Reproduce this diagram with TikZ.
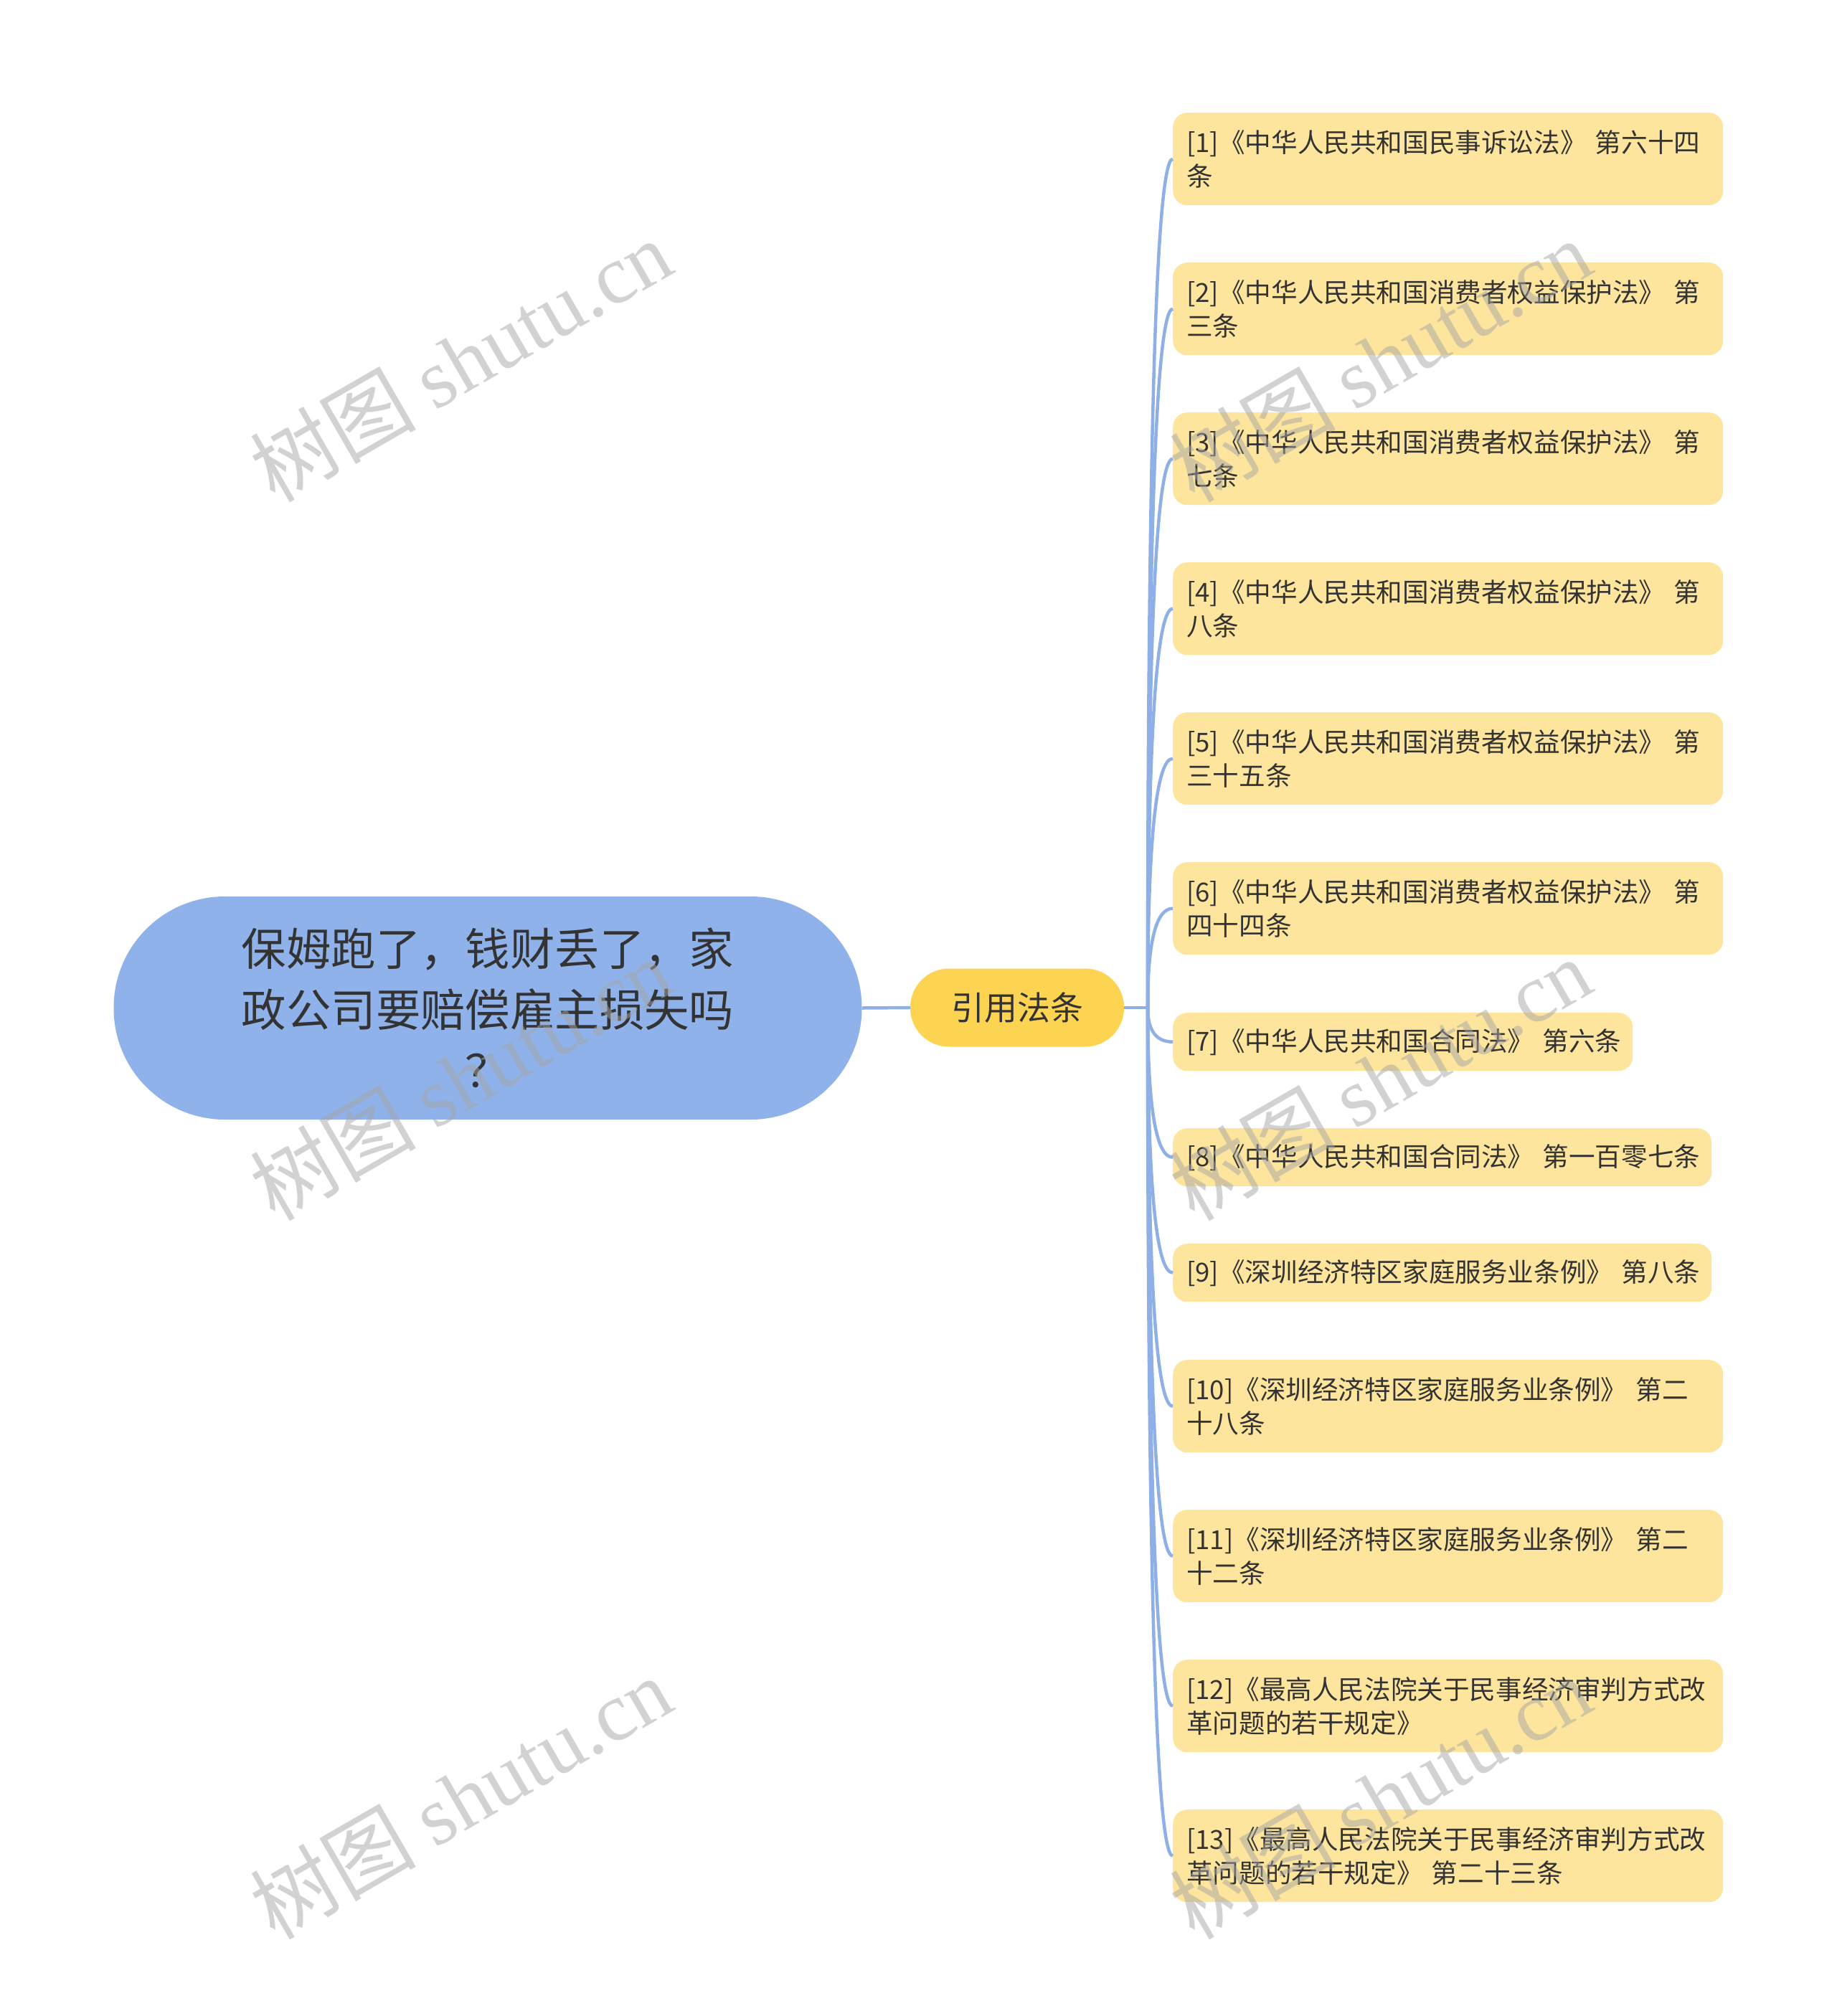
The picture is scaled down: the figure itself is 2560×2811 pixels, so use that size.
\documentclass[tikz,border=0pt]{standalone}
\usepackage{fontspec}
\setmainfont{Noto Sans CJK SC}
\newfontfamily\wmcjk{Noto Sans CJK SC}
\newfontfamily\wmlat{Liberation Serif}
\usetikzlibrary{calc}
\definecolor{rootblue}{HTML}{8FB2EA}
\definecolor{linkblue}{HTML}{8EB0E7}
\definecolor{midyellow}{HTML}{FDD352}
\definecolor{leafyellow}{HTML}{FDE59D}
\definecolor{txt}{HTML}{333333}
\definecolor{wm}{HTML}{A6A6A6}
\begin{document}
\begin{tikzpicture}[x=1pt,y=-1pt,
  rootbox/.style={fill=rootblue, rounded corners=155pt, minimum width=1043pt, minimum height=311pt, align=center, text=txt, font=\fontsize{62.4}{85}\selectfont, inner sep=0pt},
  midbox/.style={fill=midyellow, rounded corners=54pt, minimum width=298pt, minimum height=109pt, text=txt, font=\fontsize{46}{56}\selectfont, inner sep=0pt},
  leafbox/.style={fill=leafyellow, rounded corners=20pt, anchor=north west, align=left, text=txt, font=\fontsize{36.6}{47}\selectfont, inner xsep=19pt, inner ysep=0pt},
  twoline/.style={leafbox, text width=729pt, minimum height=129pt},
  oneline/.style={leafbox, minimum height=81pt},
  link/.style={draw=linkblue, line width=4.5pt},
  wmark/.style={text=wm, text opacity=0.5, rotate=30, font=\fontsize{116}{120}\selectfont}
]
\useasboundingbox (0,0) rectangle (2560,2811);

\node[rootbox] (root) at (680,1405.5) {保姆跑了，钱财丢了，家\\政公司要赔偿雇主损失吗\\？};
\node[midbox] (mid) at (1418,1405) {引用法条};
\coordinate (hub) at (1600,1405);

\node[twoline] (c1) at (1635,157) {\mbox{[1]《中华人民共和国民事诉讼法》 第六十四}\\条};
\node[twoline] (c2) at (1635,366) {\mbox{[2]《中华人民共和国消费者权益保护法》 第}\\三条};
\node[twoline] (c3) at (1635,575) {\mbox{[3]《中华人民共和国消费者权益保护法》 第}\\七条};
\node[twoline] (c4) at (1635,784) {\mbox{[4]《中华人民共和国消费者权益保护法》 第}\\八条};
\node[twoline] (c5) at (1635,993) {\mbox{[5]《中华人民共和国消费者权益保护法》 第}\\三十五条};
\node[twoline] (c6) at (1635,1202) {\mbox{[6]《中华人民共和国消费者权益保护法》 第}\\四十四条};
\node[oneline, text width=603pt] (c7) at (1635,1412) {\mbox{[7]《中华人民共和国合同法》 第六条}};
\node[oneline, text width=713pt] (c8) at (1635,1573) {\mbox{[8]《中华人民共和国合同法》 第一百零七条}};
\node[oneline, text width=713pt] (c9) at (1635,1734) {\mbox{[9]《深圳经济特区家庭服务业条例》 第八条}};
\node[twoline] (c10) at (1635,1896) {\mbox{[10]《深圳经济特区家庭服务业条例》 第二}\\十八条};
\node[twoline] (c11) at (1635,2105) {\mbox{[11]《深圳经济特区家庭服务业条例》 第二}\\十二条};
\node[twoline] (c12) at (1635,2314) {\mbox{[12]《最高人民法院关于民事经济审判方式改}\\革问题的若干规定》};
\node[twoline] (c13) at (1635,2523) {\mbox{[13]《最高人民法院关于民事经济审判方式改}\\\mbox{革问题的若干规定》 第二十三条}};

\draw[link] (root.east) -- (mid.west);
\draw[link] (mid.east) -- (hub);
\foreach \i in {1,...,13} {
  \coordinate (k\i) at (hub |- c\i.west);
  \draw[link] (hub) .. controls ($(hub)!0.6667!(k\i)$) and ($(c\i.west)!0.6667!(k\i)$) .. (c\i.west);
}

\node[wmark] (w1) at (642,502) {{\wmcjk 树图} {\wmlat shutu.cn}};
\node[wmark] (w2) at (642,1504) {{\wmcjk 树图} {\wmlat shutu.cn}};
\node[wmark] (w3) at (642,2506) {{\wmcjk 树图} {\wmlat shutu.cn}};
\node[wmark] (w4) at (1924,502) {{\wmcjk 树图} {\wmlat shutu.cn}};
\node[wmark] (w5) at (1924,1504) {{\wmcjk 树图} {\wmlat shutu.cn}};
\node[wmark] (w6) at (1924,2506) {{\wmcjk 树图} {\wmlat shutu.cn}};
\end{tikzpicture}
\end{document}
